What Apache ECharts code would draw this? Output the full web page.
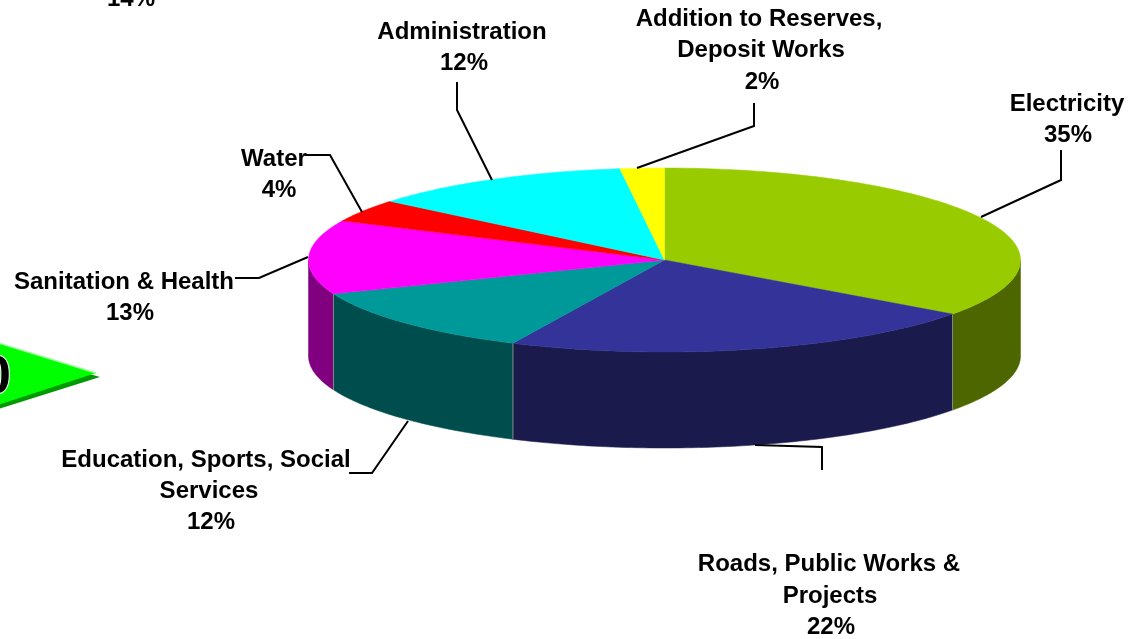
<!DOCTYPE html>
<html>
<head>
<meta charset="utf-8">
<style>html,body{margin:0;padding:0;background:#fff;overflow:hidden}#c{width:1146px;height:639px}</style>
<script src="https://cdn.jsdelivr.net/npm/echarts@6/dist/echarts.min.js"></script>
</head>
<body>
<div id="c"></div>
<script>
const categories = [['Electricity'],['Roads, Public Works &','Projects'],['Education, Sports, Social','Services'],['Sanitation & Health'],['Water'],['Administration'],['Addition to Reserves,','Deposit Works']];
const shares = [35,22,12,13,4,12,2];
const topColors = ['#99CC00','#333399','#009999','#FF00FF','#FF0000','#00FFFF','#FFFF00'];
const sideColors = ['#4D6600','#1A1A4D','#004D4D','#800080','#800000','#008080','#808000'];
const labelLines = [
  [[1067,104],[1068,135]],
  [[829,564],[830,596],[831,627]],
  [[206,460],[209,491],[211,522]],
  [[124,282],[130,313]],
  [[274,159],[279,190]],
  [[462,32],[464,63]],
  [[759,19],[761,50],[762,82]]
];
const leaders = [
  [[1061,150],[1061,180],[981,217]],
  [[755,445],[822,447],[822,470]],
  [[349,473],[372,473],[408,421]],
  [[235,278],[259,278],[308,257]],
  [[305,155],[330,155],[362,212]],
  [[457,82],[457,110],[492,180]],
  [[754,103],[754,126],[637,168]]
];
const cx = 664.5, cy = 260, rx = 356, ry = 92, depth = 96;
const font = 'bold 24px "Liberation Sans", Arial, sans-serif';

function rim(deg, dy) {
  const t = deg * Math.PI / 180;
  return [cx + rx * Math.sin(t), cy - ry * Math.cos(t) + dy];
}
function arc(a, b, dy) {
  const pts = [], n = Math.max(2, Math.ceil((b - a) / 1));
  for (let i = 0; i <= n; i++) pts.push(rim(a + (b - a) * i / n, dy));
  return pts;
}
const total = shares.reduce((s, v) => s + v, 0);

function renderSlice(params, api) {
  const i = params.dataIndex;
  const start = shares.slice(0, i).reduce((s, v) => s + v, 0) / total * 360;
  const end = start + api.value(1) / total * 360;
  const px = p => api.coord(p);
  const children = [];
  const a = Math.max(start, 90), b = Math.min(end, 270);
  if (b > a) {
    const upper = arc(a, b, 0), lower = arc(a, b, depth).reverse();
    children.push({type:'polygon', z2:1, shape:{points:upper.concat(lower).map(px)},
      style:{fill:sideColors[i], stroke:sideColors[i], lineWidth:0.5}});
    if (b < 270) {
      children.push({type:'line', z2:2, shape:{
        x1:px(rim(b,0))[0], y1:px(rim(b,0))[1], x2:px(rim(b,depth))[0], y2:px(rim(b,depth))[1]},
        style:{stroke:'#7f8a80', lineWidth:1}});
    }
  }
  const top = [[cx, cy]].concat(arc(start, end, 0));
  children.push({type:'polygon', z2:3, shape:{points:top.map(px)},
    style:{fill:topColors[i], stroke:topColors[i], lineWidth:0.5}});
  children.push({type:'polyline', z2:4, shape:{points:leaders[i].map(px)},
    style:{fill:null, stroke:'#000', lineWidth:2}});
  const lines = categories[i].concat([api.value(1) + '%']);
  lines.forEach((text, k) => {
    const c = px(labelLines[i][k]);
    children.push({type:'text', z2:5, style:{
      x:c[0], y:c[1], text:text, font:font, fill:'#000', align:'center', verticalAlign:'middle'}});
  });
  return {type:'group', children};
}

const chart = echarts.init(document.getElementById('c'), null, {renderer:'canvas'});
chart.setOption({
  backgroundColor:'#fff',
  animation:false,
  tooltip:{show:false},
  grid:{left:0,right:0,top:0,bottom:0},
  xAxis:{type:'value',min:0,max:1146,show:false},
  yAxis:{type:'value',min:0,max:639,inverse:true,show:false},
  series:[{type:'custom',coordinateSystem:'cartesian2d',clip:false,silent:true,
    renderItem:renderSlice,
    data:shares.map((v,i)=>[i,v])}],
  graphic:[
    {type:'polygon',z:1,shape:{points:[[-5,347],[100,377],[-5,410]]},style:{fill:'#009900'}},
    {type:'polygon',z:2,shape:{points:[[-5,342],[96,373],[-5,406]]},style:{fill:'#00FF00'}},
    {type:'polyline',z:3,shape:{points:[[-5,342],[96,373]]},style:{fill:null,stroke:'#99FF99',lineWidth:1.5}},
    {type:'text',z:4,style:{x:11,y:378,text:'0',font:'bold 54px "Liberation Sans", Arial, sans-serif',
      fill:'#000',stroke:'#fff',lineWidth:2,align:'right',verticalAlign:'middle'}},
    {type:'text',z:4,style:{x:131,y:11,text:'14%',font:font,fill:'#000',align:'center',verticalAlign:'bottom'}}
  ]
});
</script>
</body>
</html>
